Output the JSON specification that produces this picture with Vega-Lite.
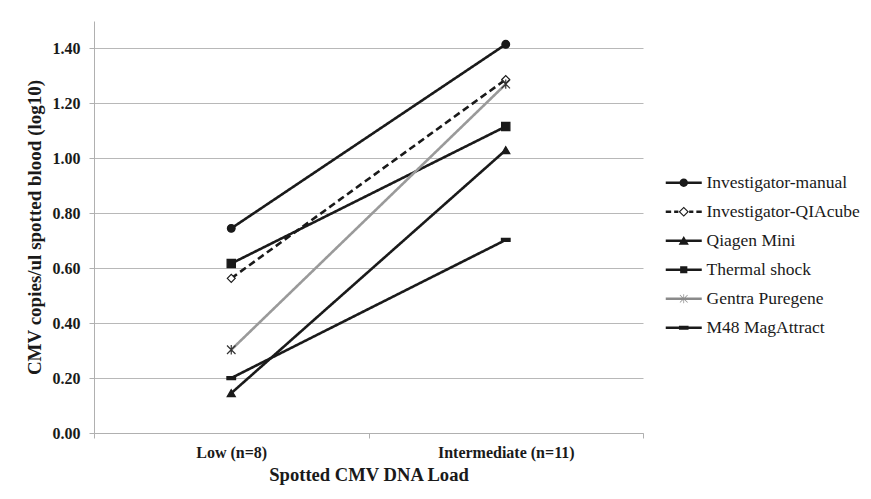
{
  "$schema": "https://vega.github.io/schema/vega-lite/v6.json",
  "width": 549,
  "height": 412,
  "autosize": {"type": "none"},
  "padding": {"left": 94, "top": 21, "right": 228, "bottom": 66},
  "background": "white",
  "config": {
    "view": {"stroke": null},
    "font": "Liberation Serif",
    "legend": {"labelFont": "Liberation Serif", "labelFontSize": 17.5, "labelColor": "#1a1a1a"},
    "axis": {
      "labelFont": "Liberation Serif",
      "titleFont": "Liberation Serif",
      "labelFontWeight": "bold",
      "titleFontWeight": "bold",
      "labelColor": "#1a1a1a",
      "titleColor": "#1a1a1a",
      "domainColor": "#b0b0b0",
      "tickColor": "#b0b0b0",
      "gridColor": "#b8b8b8",
      "gridOpacity": 1
    }
  },
  "data": {
    "values": [
      {"series": "Investigator-manual", "load": "Low (n=8)", "value": 0.745},
      {"series": "Investigator-manual", "load": "Intermediate (n=11)", "value": 1.415},
      {"series": "Investigator-QIAcube", "load": "Low (n=8)", "value": 0.563},
      {"series": "Investigator-QIAcube", "load": "Intermediate (n=11)", "value": 1.287},
      {"series": "Qiagen Mini", "load": "Low (n=8)", "value": 0.145},
      {"series": "Qiagen Mini", "load": "Intermediate (n=11)", "value": 1.03},
      {"series": "Thermal shock", "load": "Low (n=8)", "value": 0.617},
      {"series": "Thermal shock", "load": "Intermediate (n=11)", "value": 1.116},
      {"series": "Gentra Puregene", "load": "Low (n=8)", "value": 0.303},
      {"series": "Gentra Puregene", "load": "Intermediate (n=11)", "value": 1.27},
      {"series": "M48 MagAttract", "load": "Low (n=8)", "value": 0.2},
      {"series": "M48 MagAttract", "load": "Intermediate (n=11)", "value": 0.703}
    ]
  },
  "encoding": {
    "x": {
      "field": "load",
      "type": "nominal",
      "sort": ["Low (n=8)", "Intermediate (n=11)"],
      "scale": {"paddingInner": 0, "paddingOuter": 0},
      "axis": {
        "title": "Spotted CMV DNA Load",
        "labelAngle": 0,
        "labelFontSize": 16,
        "titleFontSize": 18.6,
        "tickBand": "extent",
        "tickSize": 5,
        "labelPadding": 6,
        "titlePadding": 5,
        "grid": false
      }
    },
    "y": {
      "field": "value",
      "type": "quantitative",
      "scale": {"domain": [0, 1.5], "nice": false},
      "axis": {
        "title": "CMV copies/ul spotted blood (log10)",
        "values": [0, 0.2, 0.4, 0.6, 0.8, 1.0, 1.2, 1.4],
        "format": ".2f",
        "labelFontSize": 16,
        "titleFontSize": 19,
        "tickSize": 5,
        "labelPadding": 9,
        "titlePadding": 8,
        "grid": true
      }
    }
  },
  "layer": [
    {
      "mark": {"type": "line", "strokeWidth": 2.6, "opacity": 1},
      "encoding": {
        "detail": {"field": "series"},
        "stroke": {
          "field": "series",
          "type": "nominal",
          "scale": {
            "domain": ["Investigator-manual", "Investigator-QIAcube", "Qiagen Mini", "Thermal shock", "Gentra Puregene", "M48 MagAttract"],
            "range": ["#1a1a1a", "#1a1a1a", "#1a1a1a", "#1a1a1a", "#9a9a9a", "#1a1a1a"]
          },
          "legend": null
        },
        "strokeDash": {
          "field": "series",
          "type": "nominal",
          "scale": {
            "domain": ["Investigator-manual", "Investigator-QIAcube", "Qiagen Mini", "Thermal shock", "Gentra Puregene", "M48 MagAttract"],
            "range": [[1, 0], [7, 4], [1, 0], [1, 0], [1, 0], [1, 0]]
          },
          "legend": null
        }
      }
    },
    {
      "mark": {"type": "point", "filled": true, "opacity": 1, "strokeWidth": 1.2},
      "encoding": {
        "shape": {
          "field": "series",
          "type": "nominal",
          "scale": {
            "domain": ["Investigator-manual", "Investigator-QIAcube", "Qiagen Mini", "Thermal shock", "Gentra Puregene", "M48 MagAttract"],
            "range": ["circle", "diamond", "triangle-up", "square", "M-1,-1L1,1M-1,1L1,-1M0,-1.1L0,1.1", "M-1,-0.35H1V0.35H-1Z"]
          },
          "legend": null
        },
        "fill": {
          "field": "series",
          "type": "nominal",
          "scale": {
            "domain": ["Investigator-manual", "Investigator-QIAcube", "Qiagen Mini", "Thermal shock", "Gentra Puregene", "M48 MagAttract"],
            "range": ["#1a1a1a", "#ffffff", "#1a1a1a", "#1a1a1a", "transparent", "#1a1a1a"]
          },
          "legend": null
        },
        "stroke": {
          "field": "series",
          "type": "nominal",
          "scale": {
            "domain": ["Investigator-manual", "Investigator-QIAcube", "Qiagen Mini", "Thermal shock", "Gentra Puregene", "M48 MagAttract"],
            "range": ["#1a1a1a", "#1a1a1a", "#1a1a1a", "#1a1a1a", "#333333", "#1a1a1a"]
          },
          "legend": null
        },
        "size": {
          "field": "series",
          "type": "nominal",
          "scale": {
            "domain": ["Investigator-manual", "Investigator-QIAcube", "Qiagen Mini", "Thermal shock", "Gentra Puregene", "M48 MagAttract"],
            "range": [60, 75, 120, 65, 120, 144]
          },
          "legend": null
        }
      }
    },
    {
      "transform": [{"filter": "false"}],
      "mark": {"type": "point", "filled": true, "opacity": 1},
      "encoding": {
        "shape": {
          "field": "series",
          "type": "nominal",
          "scale": {
            "domain": ["Investigator-manual", "Investigator-QIAcube", "Qiagen Mini", "Thermal shock", "Gentra Puregene", "M48 MagAttract"],
            "range": [
              "M-3,-0.2H3V0.2H-3ZM0.7,0A0.7,0.7,0,1,1,-0.7,0A0.7,0.7,0,1,1,0.7,0Z",
              "M-3,-0.2H-2.1V0.2H-3ZM-1.6,-0.2H-0.9V0.2H-1.6ZM0.9,-0.2H1.6V0.2H0.9ZM2.1,-0.2H3V0.2H2.1ZM0,-0.85L0.85,0L0,0.85L-0.85,0ZM0,-0.58L-0.58,0L0,0.58L0.58,0Z",
              "M-3,-0.2H3V0.2H-3ZM0,-0.8L0.85,0.65L-0.85,0.65Z",
              "M-3,-0.2H3V0.2H-3ZM-0.6,-0.6H0.6V0.6H-0.6Z",
              "M-3,-0.2H3V0.2H-3ZM-0.06,-0.75H0.06V0.75H-0.06ZM-0.6,-0.68L0.68,0.6L0.6,0.68L-0.68,-0.6ZM0.6,-0.68L0.68,-0.6L-0.6,0.68L-0.68,0.6Z",
              "M-3,-0.2H3V0.2H-3ZM-0.8,-0.35H0.8V0.35H-0.8Z"
            ]
          },
          "legend": {
            "title": null,
            "orient": "none",
            "legendX": 581,
            "legendY": 153,
            "symbolSize": 144,
            "symbolStrokeWidth": 0,
            "labelOffset": 14,
            "labelFont": "Liberation Serif",
            "labelFontSize": 17.5,
            "labelColor": "#1a1a1a",
            "rowPadding": 10,
            "labelLimit": 300
          }
        },
        "color": {
          "field": "series",
          "type": "nominal",
          "scale": {
            "domain": ["Investigator-manual", "Investigator-QIAcube", "Qiagen Mini", "Thermal shock", "Gentra Puregene", "M48 MagAttract"],
            "range": ["#1a1a1a", "#1a1a1a", "#1a1a1a", "#1a1a1a", "#8a8a8a", "#1a1a1a"]
          },
          "legend": {
            "title": null,
            "orient": "none",
            "legendX": 581,
            "legendY": 153,
            "symbolSize": 144,
            "symbolStrokeWidth": 0,
            "labelOffset": 14,
            "labelFont": "Liberation Serif",
            "labelFontSize": 17.5,
            "labelColor": "#1a1a1a",
            "rowPadding": 10,
            "labelLimit": 300
          }
        }
      }
    }
  ],
  "resolve": {
    "scale": {
      "color": "independent",
      "shape": "independent",
      "fill": "independent",
      "stroke": "independent",
      "size": "independent",
      "strokeDash": "independent"
    }
  }
}
